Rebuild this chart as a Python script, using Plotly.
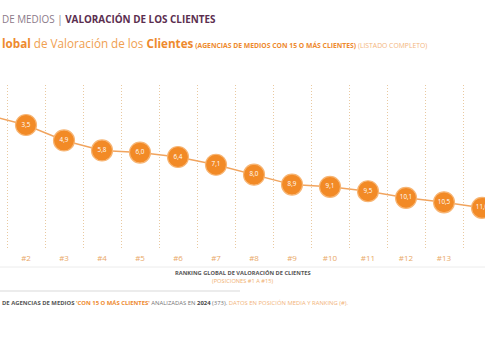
import plotly.graph_objects as go

positions = list(range(1, 15))
tick_labels = [f"#{p}" for p in positions]
values = [2.6, 3.5, 4.9, 5.8, 6.0, 6.4, 7.1, 8.0, 8.9, 9.1, 9.5, 10.1, 10.5, 11.0]
value_labels = [f"{v:.1f}".replace(".", ",") for v in values]

ORANGE = "#F28A26"
FONT = "Open Sans"

fig = go.Figure()
fig.add_trace(go.Scatter(
    x=positions, y=values, mode="lines+markers+text",
    text=value_labels, textposition="middle center",
    textfont=dict(color="white", size=6.3, family=FONT),
    line=dict(color="#F1A45E", width=1.5),
    marker=dict(size=21, color=ORANGE, line=dict(color="#F7B574", width=1.2)),
    cliponaxis=False, hoverinfo="skip", showlegend=False,
))

T, B = 85, 250  # plot top/bottom pixel
H = B - T
def py(p):
    return (B - p) / H

fig.update_layout(
    width=485, height=360,
    margin=dict(l=0, r=0, t=T, b=360 - B),
    paper_bgcolor="white", plot_bgcolor="white",
    font=dict(family=FONT),
    xaxis=dict(
        range=[2 - 26 / 38, 2 - 26 / 38 + 485 / 38],
        tickmode="array", tickvals=positions, ticktext=tick_labels,
        tickfont=dict(size=8, color="#E9A866", family=FONT),
        showgrid=False, zeroline=False, showline=False, ticks="",
        ticklabelstandoff=2,
        minor=dict(tickmode="array", tickvals=[p + 0.5 for p in range(0, 16)],
                   showgrid=True, griddash="1px,2px", gridcolor="#E9C9A0", gridwidth=1),
    ),
    yaxis=dict(
        range=[3.5 + (B - 125) / 11.04, 3.5 - (125 - T) / 11.04],
        showgrid=False, zeroline=False, showticklabels=False, showline=False,
    ),
    shapes=[
        dict(type="line", xref="paper", yref="paper", x0=0, x1=1,
             y0=py(267), y1=py(267), line=dict(color="#ECECEC", width=1)),
        dict(type="line", xref="paper", yref="paper", x0=0, x1=240 / 485,
             y0=py(291), y1=py(291), line=dict(color="#E6E6E6", width=1.5)),
    ],
    annotations=[
        dict(xref="paper", yref="paper", x=0, y=py(19), xanchor="left", yanchor="middle",
             showarrow=False,
             text="<span style='color:#8C7A89'>DE MEDIOS | </span><b><span style='color:#5B2E4F'>VALORACIÓN DE LOS CLIENTES</span></b>",
             font=dict(size=9.9, family=FONT)),
        dict(xref="paper", yref="paper", x=0, y=py(43), xanchor="left", yanchor="middle",
             showarrow=False,
             text=("<b><span style='color:#EE8A2E'>lobal</span></b>"
                   "<span style='color:#F0A050'> de Valoración de los </span>"
                   "<b><span style='color:#EE8A2E'>Clientes</span></b>"
                   "<span style='font-size:6.8px'> <b><span style='color:#EE8A2E'>(AGENCIAS DE MEDIOS CON 15 O MÁS CLIENTES)</span></b>"
                   "<span style='color:#F3B57E'> (LISTADO COMPLETO)</span></span>"),
             font=dict(size=11.7, family=FONT)),
        dict(xref="paper", yref="paper", x=0.5, y=py(273), xanchor="center", yanchor="middle",
             showarrow=False, text="<b>RANKING GLOBAL DE VALORACIÓN DE CLIENTES</b>",
             font=dict(size=5.7, color="#555555", family=FONT)),
        dict(xref="paper", yref="paper", x=0.5, y=py(281), xanchor="center", yanchor="middle",
             showarrow=False, text="(POSICIONES #1 A #15)",
             font=dict(size=5.7, color="#F0B070", family=FONT)),
        dict(xref="paper", yref="paper", x=0, y=py(303), xanchor="left", yanchor="middle",
             showarrow=False,
             text=("<b><span style='color:#555555'>DE AGENCIAS DE MEDIOS </span></b>"
                   "<b><span style='color:#EE8A2E'>'CON 15 O MÁS CLIENTES'</span></b>"
                   "<span style='color:#777777'> ANALIZADAS EN </span>"
                   "<b><span style='color:#444444'>2024</span></b>"
                   "<span style='color:#777777'> (373). </span>"
                   "<span style='color:#F2B37A'>DATOS EN POSICIÓN MEDIA Y RANKING (#).</span>"),
             font=dict(size=5.9, family=FONT)),
    ],
)

fig.write_html("out.html", config={"displayModeBar": False},
               post_script="document.body.style.margin='0';document.body.style.overflow='hidden';")
